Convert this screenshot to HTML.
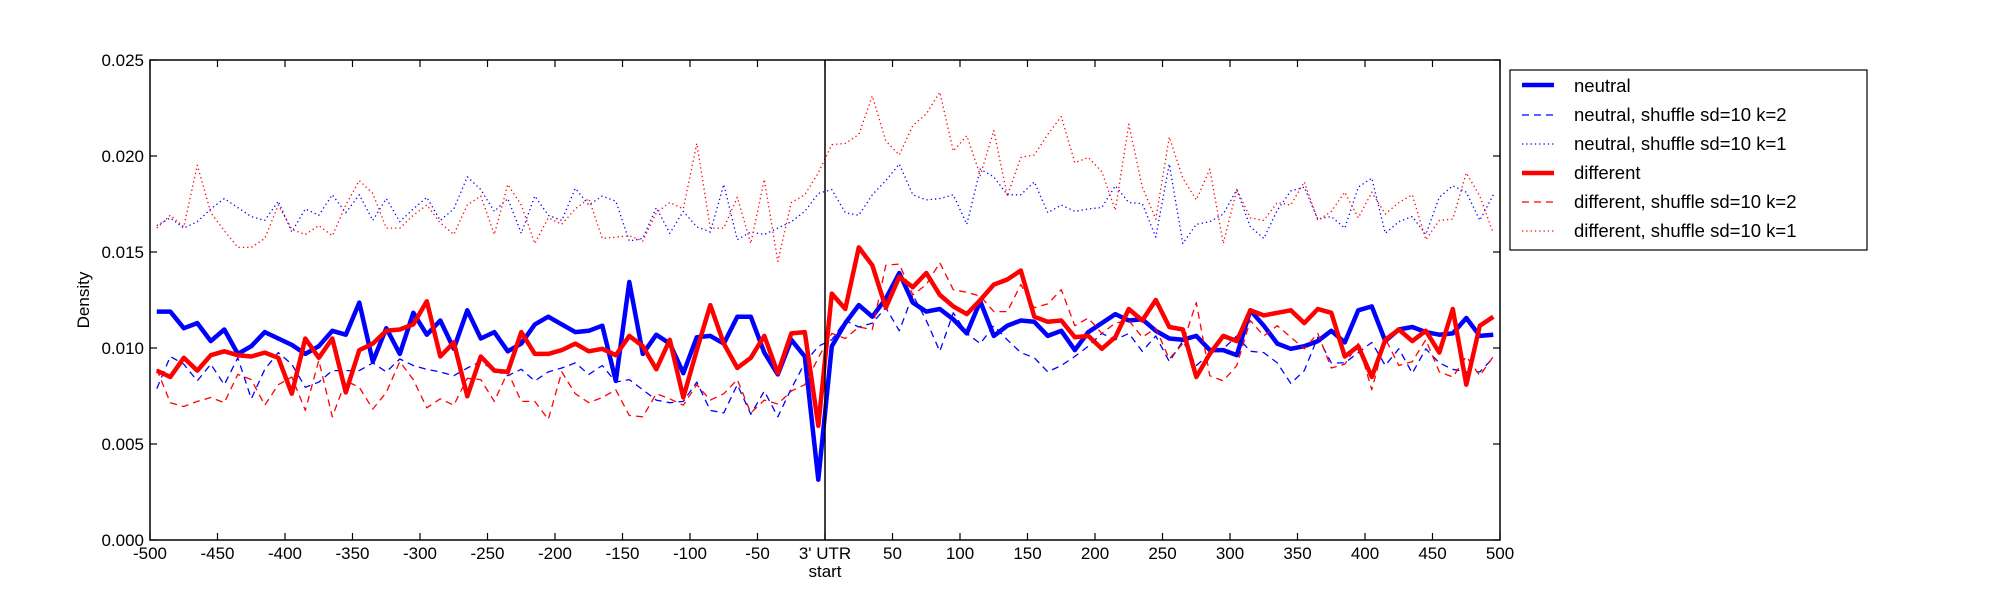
<!DOCTYPE html>
<html><head><meta charset="utf-8"><style>
html,body{margin:0;padding:0;background:#fff;}
svg{display:block;font-family:"Liberation Sans","DejaVu Sans",sans-serif;}
</style></head><body>
<svg id="s" width="2000" height="600" xmlns="http://www.w3.org/2000/svg">
<rect width="2000" height="600" fill="#fff"/>
<g id="data"></g>
<line x1="825" y1="60" x2="825" y2="540" stroke="#000" stroke-width="1.5"/>
<rect x="150" y="60" width="1350" height="480" fill="none" stroke="#000" stroke-width="1.5"/>
<g id="ticks" stroke="#000" stroke-width="1.2"></g>
<g id="labels" font-size="17" fill="#000"></g>
<text x="0" y="0" font-size="17" transform="translate(89,300) rotate(-90)" text-anchor="middle">Density</text>
<g>
<rect x="1510" y="70" width="357" height="180" fill="#fff" stroke="#000" stroke-width="1.2"/>
<line x1="1522" y1="85" x2="1554" y2="85" stroke="#0000ff" stroke-width="4.5"/>
<line x1="1522" y1="115" x2="1554" y2="115" stroke="#0000ff" stroke-width="1.3" stroke-dasharray="7,5"/>
<line x1="1522" y1="144" x2="1554" y2="144" stroke="#0000ff" stroke-width="1.3" stroke-dasharray="1.3,3"/>
<line x1="1522" y1="173" x2="1554" y2="173" stroke="#ff0000" stroke-width="4.5"/>
<line x1="1522" y1="202" x2="1554" y2="202" stroke="#ff0000" stroke-width="1.3" stroke-dasharray="7,5"/>
<line x1="1522" y1="231" x2="1554" y2="231" stroke="#ff0000" stroke-width="1.3" stroke-dasharray="1.3,3"/>
<g font-size="18.5">
<text x="1574" y="92">neutral</text>
<text x="1574" y="121">neutral, shuffle sd=10 k=2</text>
<text x="1574" y="150">neutral, shuffle sd=10 k=1</text>
<text x="1574" y="179">different</text>
<text x="1574" y="208">different, shuffle sd=10 k=2</text>
<text x="1574" y="237">different, shuffle sd=10 k=1</text>
</g>
</g>
</svg>
<script>
var NS="http://www.w3.org/2000/svg";
function el(t,a,p,txt){var e=document.createElementNS(NS,t);for(var k in a)e.setAttribute(k,a[k]);if(txt!==undefined)e.textContent=txt;p.appendChild(e);return e;}
var nt=[243,243,256,252,266,257,276,270,259,264,269,276,270,258,261,236,282,256,276,244,261,250,272,242,264,259,274,268,253,247,253,259,258,254,297,220,276,261,268,291,263,262,268,247,247,275,292,265,278,374,270,252,238,247,233,213,236,243,241,249,260,235,262,254,250,251,262,258,273,259,252,245,250,249,258,264,265,262,273,273,277,242,254,268,272,270,266,258,267,242,239,266,257,255,259,261,260,248,262,261];
var dt=[289,294,279,289,277,274,277,278,275,279,307,264,279,264,306,273,268,258,257,253,235,278,267,309,278,289,290,259,276,276,273,268,274,272,277,262,270,288,265,310,273,238,268,287,279,262,291,260,259,332,229,241,193,207,240,216,224,213,230,239,245,234,222,218,211,247,251,250,263,262,272,263,241,250,234,255,257,294,276,262,266,242,246,244,242,252,241,244,278,270,294,265,257,266,258,275,241,300,254,247];
var n2=[303,278,284,297,284,300,279,311,288,275,284,302,298,289,289,289,283,290,280,285,288,290,293,287,282,289,293,288,297,290,287,283,292,285,298,296,304,312,314,313,298,320,322,300,323,305,325,303,283,270,265,250,255,252,240,258,230,250,274,244,260,268,254,265,275,279,290,285,278,270,260,265,260,274,262,282,266,285,276,272,262,274,275,283,299,289,263,283,283,275,267,285,272,291,272,283,288,290,290,279];
var d2=[288,314,317,313,310,314,292,296,316,300,294,320,281,325,297,302,319,306,282,296,318,311,316,295,296,313,290,313,313,327,290,307,314,310,304,324,325,307,311,316,300,312,307,296,322,312,315,305,300,279,260,264,255,257,207,206,230,222,205,226,228,231,243,243,222,240,237,226,254,248,260,252,250,263,256,280,268,236,293,297,285,250,262,254,263,272,260,287,284,268,304,264,285,282,265,290,294,278,293,278];
var n1=[176,170,178,173,163,155,162,169,172,157,181,163,168,152,166,152,172,155,173,163,154,172,163,138,148,165,155,182,153,168,172,147,160,153,157,188,186,162,182,165,177,181,144,187,181,183,178,173,165,151,148,166,168,152,141,128,152,156,155,152,175,132,138,152,152,142,166,160,165,163,162,145,158,159,185,128,190,175,173,167,148,177,186,164,149,146,171,169,178,146,139,182,173,169,183,154,145,150,172,152];
var d1=[178,168,177,129,166,180,193,193,186,160,179,183,176,184,160,141,151,178,178,168,160,174,183,160,153,183,144,160,190,170,175,163,155,186,185,184,188,166,158,163,112,178,178,154,190,140,204,158,152,135,113,112,105,75,110,121,98,89,72,118,106,137,102,153,123,121,105,91,127,123,134,164,97,146,171,107,139,156,132,190,148,170,172,158,160,142,172,165,150,170,150,167,158,152,187,172,171,135,153,182];
var g=document.getElementById("data");
function pts(a){return a.map(function(y,i){var u=-495+10*i;var x=150+(u+500)*1.35;var yo=60+(y-47)*480/374;return x.toFixed(1)+","+yo.toFixed(1);}).join(" ");}
var common={fill:"none","stroke-linejoin":"round"};
function pl(a,c,w,d){var o={points:pts(a),stroke:c,"stroke-width":w,fill:"none","stroke-linejoin":"round"};if(d)o["stroke-dasharray"]=d;el("polyline",o,g);}
pl(n2,"#0000ff",1.3,"7,5");
pl(n1,"#0000ff",1.3,"1.3,3");
pl(nt,"#0000ff",4.5);
pl(dt,"#ff0000",4.5);
pl(d2,"#ff0000",1.3,"7,5");
pl(d1,"#ff0000",1.3,"1.3,3");
var tk=document.getElementById("ticks"),lb=document.getElementById("labels");
for(var u=-500;u<=500;u+=50){var x=150+(u+500)*1.35;
el("line",{x1:x,y1:540,x2:x,y2:533},tk);el("line",{x1:x,y1:60,x2:x,y2:67},tk);
el("text",{x:x,y:559,"text-anchor":"middle"},lb,u==0?"3' UTR":String(u));}
el("text",{x:825,y:577,"text-anchor":"middle"},lb,"start");
for(var i=0;i<=5;i++){var y=540-i*96;
el("line",{x1:150,y1:y,x2:157,y2:y},tk);el("line",{x1:1500,y1:y,x2:1493,y2:y},tk);
el("text",{x:144,y:y+6,"text-anchor":"end"},lb,(i*0.005).toFixed(3));}
</script>
</body></html>
